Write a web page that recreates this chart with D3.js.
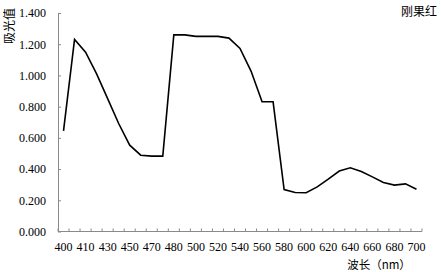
<!DOCTYPE html>
<html><head><meta charset="utf-8">
<script src="https://cdn.jsdelivr.net/npm/d3@7"></script>
<style>body{margin:0;background:#fff}svg{display:block}</style>
</head><body>
<script>
const categories = [400,405,410,420,430,440,450,460,470,475,480,490,500,510,520,530,540,550,560,570,580,590,600,610,620,630,640,650,660,670,680,690,700];
const absorbance = [0.645,1.231,1.149,1.010,0.851,0.692,0.553,0.489,0.483,0.483,1.260,1.260,1.250,1.250,1.250,1.239,1.173,1.028,0.831,0.831,0.269,0.250,0.248,0.286,0.335,0.387,0.408,0.385,0.350,0.314,0.297,0.305,0.271];
const yTicks = [0,0.2,0.4,0.6,0.8,1.0,1.2,1.4];
const yTitle = "吸光值";
const xTitle = "波长（nm）";
const seriesName = "刚果红";

const W = 441, H = 272;
const svg = d3.select("body").append("svg").attr("width", W).attr("height", H);
const x = d3.scaleBand().domain(d3.range(categories.length)).range([58, 422]);
const y = d3.scaleLinear().domain([0, 1.4]).range([231.5, 13]);
const axisColor = "#8a8a8a";
const serif = "'Liberation Serif','Times New Roman',serif";
const cjk = "'Noto Sans CJK SC',sans-serif";

// Y axis
const yAxis = svg.append("g").attr("transform", "translate(58,0)")
  .call(d3.axisLeft(y).tickValues(yTicks).tickFormat(d3.format(".3f")).tickSizeInner(-3).tickSizeOuter(0).tickPadding(12));
yAxis.select(".domain").attr("stroke", axisColor).attr("stroke-width", 1);
yAxis.selectAll(".tick line").attr("stroke", axisColor);
yAxis.selectAll("text").attr("font-family", serif).attr("font-size", 12).attr("fill", "#000");

// X axis: ticks at band boundaries
const xg = svg.append("g");
xg.append("line").attr("x1", 58).attr("x2", 422).attr("y1", y(0)).attr("y2", y(0))
  .attr("stroke", axisColor).attr("stroke-width", 1);
const bounds = d3.range(categories.length + 1).map(i => i === categories.length ? x.range()[1] : x(i));
xg.selectAll("line.tk").data(bounds).join("line").attr("class", "tk")
  .attr("x1", d => d).attr("x2", d => d).attr("y1", y(0)).attr("y2", y(0) - 3)
  .attr("stroke", axisColor);
xg.selectAll("text").data(categories.map((c, i) => ({c, i})).filter(d => d.i % 2 === 0)).join("text")
  .attr("x", d => x(d.i) + x.bandwidth() / 2).attr("y", 251)
  .attr("text-anchor", "middle").attr("font-family", serif).attr("font-size", 12).attr("fill", "#000")
  .text(d => d.c);

// Line
const line = d3.line().x((d, i) => x(i) + x.bandwidth() / 2).y(d => y(d));
svg.append("path").datum(absorbance).attr("d", line)
  .attr("fill", "none").attr("stroke", "#000").attr("stroke-width", 1.6).attr("stroke-linejoin", "miter");

// Titles
svg.append("text").attr("transform", "translate(14,26) rotate(-90)")
  .attr("text-anchor", "middle").attr("font-family", cjk).attr("font-size", 12).attr("fill", "#000").text(yTitle);
svg.append("text").attr("x", 379).attr("y", 269)
  .attr("text-anchor", "middle").attr("font-family", cjk).attr("font-size", 11.5).attr("fill", "#000").text(xTitle);
svg.append("text").attr("x", 437).attr("y", 16)
  .attr("text-anchor", "end").attr("font-family", cjk).attr("font-size", 12).attr("fill", "#000").text(seriesName);
</script>
</body></html>
